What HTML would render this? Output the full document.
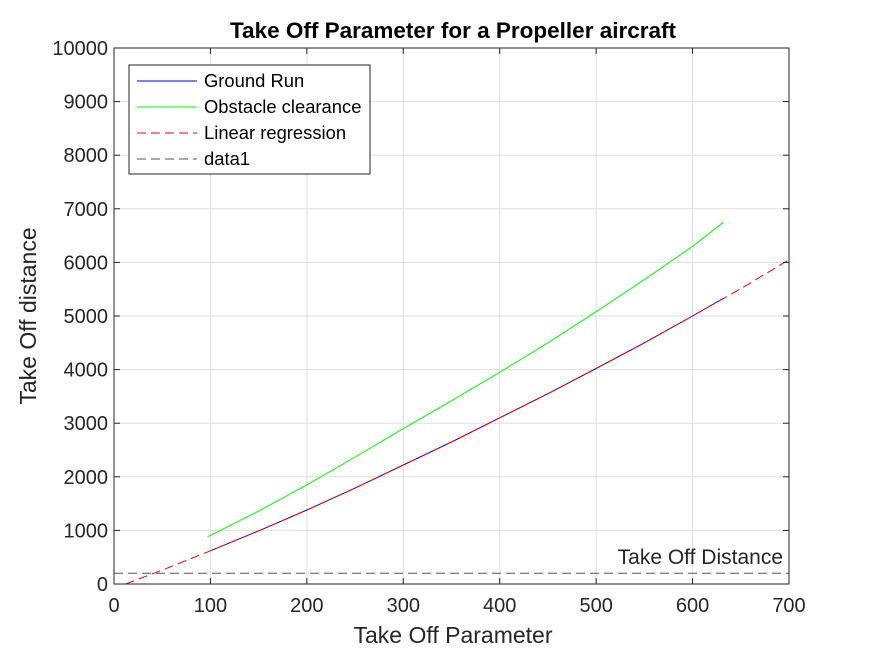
<!DOCTYPE html>
<html><head><meta charset="utf-8"><style>
body{margin:0;background:#fff;font-family:"Liberation Sans",sans-serif}
svg text{font-family:"Liberation Sans",sans-serif}
</style></head><body>
<svg id="chart" width="875" height="656">
<g id="grid"></g>
<g id="series"></g>
<g id="axes"></g>
<text x="453" y="38" font-size="22.5" font-weight="bold" text-anchor="middle" fill="#000">Take Off Parameter for a Propeller aircraft</text>
<text x="453" y="643" font-size="23" text-anchor="middle" fill="#262626">Take Off Parameter</text>
<text x="36" y="316" font-size="23" text-anchor="middle" fill="#262626" transform="rotate(-90 36 316)">Take Off distance</text>
<text x="783" y="564" font-size="21" text-anchor="end" fill="#262626">Take Off Distance</text>
<g>
<rect x="129" y="65" width="241" height="109" fill="#fff" stroke="#262626" stroke-width="1"/>
<line x1="137" y1="81" x2="197" y2="81" stroke="#0000ff"/>
<text x="204" y="87" font-size="18.4" fill="#000">Ground Run</text>
<line x1="137" y1="107" x2="197" y2="107" stroke="#00ff00"/>
<text x="204" y="113" font-size="18.4" fill="#000">Obstacle clearance</text>
<line x1="137" y1="133" x2="197" y2="133" stroke="#ff0000" stroke-dasharray="9,5"/>
<text x="204" y="139" font-size="18.4" fill="#000">Linear regression</text>
<line x1="137" y1="159" x2="197" y2="159" stroke="#555" stroke-dasharray="9,5"/>
<text x="204" y="165" font-size="18.4" fill="#000">data1</text>
</g>
</svg>
<script>
const xTicks=[0,100,200,300,400,500,600,700];
const yTicks=[0,1000,2000,3000,4000,5000,6000,7000,8000,9000,10000];
const groundX=[100,150,200,250,300,350,400,450,500,550,600,632];
const groundY=[620,990,1380,1790,2220,2650,3100,3550,4020,4500,5000,5330];
const obstacleX=[97,150,200,250,300,350,400,450,500,550,600,632];
const obstacleY=[880,1360,1850,2370,2900,3420,3950,4500,5080,5680,6300,6750];
const regX=[12,50,100,150,200,250,300,350,400,450,500,550,600,650,700];
const regY=[0,260,620,990,1380,1790,2220,2650,3100,3550,4020,4500,5000,5510,6050];
const thresholdY=[200];
const L=114,R=789,T=48,B=584;
const sx=v=>L+(v-0)/700*(R-L), sy=v=>B-v/10000*(B-T);
const NS='http://www.w3.org/2000/svg';
function mk(p,t,a){const e=document.createElementNS(NS,t);for(const k in a)e.setAttribute(k,a[k]);p.appendChild(e);return e;}
const grid=document.getElementById('grid'),axes=document.getElementById('axes'),ser=document.getElementById('series');
mk(grid,'rect',{x:L,y:T,width:R-L,height:B-T,fill:'#fff'});
xTicks.forEach(v=>{
 const g=mk(grid,'line',{x1:sx(v),x2:sx(v),y1:T,y2:B,stroke:'#dfdfdf'});
 
 
 mk(axes,'line',{x1:sx(v),x2:sx(v),y1:B,y2:B-6,stroke:'#262626'});
 mk(axes,'line',{x1:sx(v),x2:sx(v),y1:T,y2:T+6,stroke:'#262626'});
 const t=mk(axes,'text',{x:sx(v),y:B+28,'font-size':20,'text-anchor':'middle',fill:'#262626'});t.textContent=v;
 
 
});
yTicks.forEach(v=>{
 const g=mk(grid,'line',{x1:L,x2:R,y1:sy(v),y2:sy(v),stroke:'#dfdfdf'});
 
 
 mk(axes,'line',{x1:L,x2:L+6,y1:sy(v),y2:sy(v),stroke:'#262626'});
 mk(axes,'line',{x1:R,x2:R-6,y1:sy(v),y2:sy(v),stroke:'#262626'});
 const t=mk(axes,'text',{x:L-6,y:sy(v)+7,'font-size':20,'text-anchor':'end',fill:'#262626'});t.textContent=v;
 
 
});
mk(axes,'rect',{x:L,y:T,width:R-L,height:B-T,fill:'none',stroke:'#262626','stroke-width':1});
const clip=mk(ser,'clipPath',{id:'cp'});mk(clip,'rect',{x:L,y:T,width:R-L,height:B-T});
function line(xs,ys,color,dash,name){
 const d=xs.map((x,i)=>(i?'L':'M')+sx(x).toFixed(1)+','+sy(ys[i]).toFixed(1)).join('');
 const p=mk(ser,'path',{d,fill:'none',stroke:color,'stroke-width':1,'clip-path':'url(#cp)'});
 if(dash)p.setAttribute('stroke-dasharray',dash);
 
 
}
line([0,700],[thresholdY[0],thresholdY[0]],'#555','9,5','data1-line');
line(obstacleX,obstacleY,'#00ff00',null,'obstacle-clearance-line');
line(groundX,groundY,'#0000ff',null,'ground-run-line');
line(regX,regY,'#ff0000','9,5','linear-regression-line');
</script>
</body></html>
